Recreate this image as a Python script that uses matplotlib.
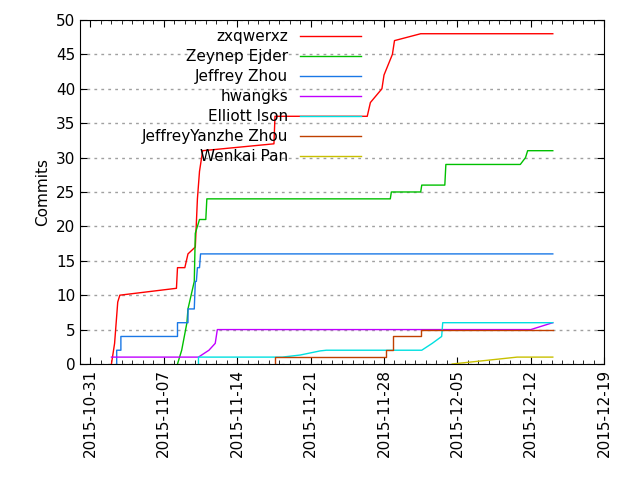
import datetime as dt
import matplotlib
matplotlib.use("Agg")
import matplotlib.pyplot as plt
import matplotlib.dates as mdates
from matplotlib.ticker import MultipleLocator

base = dt.datetime(2015, 10, 31)

authors = ["zxqwerxz", "Zeynep Ejder", "Jeffrey Zhou", "hwangks",
           "Elliott Ison", "JeffreyYanzhe Zhou", "Wenkai Pan"]
colors = ["#ff0000", "#00c000", "#1a78e6", "#c000ff", "#00e0e0", "#c04000", "#c8c000"]

# (days since 2015-10-31, cumulative commits)
zxqwerxz = [(2.0, 0), (2.3, 3), (2.6, 9), (2.8, 10), (8.2, 11), (8.3, 14), (9.0, 14), (9.3, 16),
            (10.0, 17), (10.2, 24), (10.4, 28), (10.7, 31), (17.5, 32), (17.6, 36), (26.4, 36),
            (26.7, 38), (27.8, 40), (28.0, 42), (28.8, 45), (29.0, 47), (31.5, 48), (44.1, 48)]
zeynep = [(8.3, 0), (8.7, 2), (9.2, 6), (9.3, 8), (9.9, 12), (10.0, 19), (10.4, 21), (11.0, 21),
          (11.1, 24), (28.6, 24), (28.7, 25), (31.5, 25), (31.6, 26), (33.8, 26), (33.9, 29),
          (41.0, 29), (41.5, 30), (41.7, 31), (44.1, 31)]
jeffrey = [(2.5, 0), (2.5, 2), (2.9, 2), (2.9, 4), (8.3, 4), (8.3, 6), (9.3, 6), (9.3, 8),
           (9.9, 8), (10.0, 12), (10.1, 12), (10.2, 14), (10.4, 14), (10.5, 16), (44.1, 16)]
hwangks = [(2.0, 1), (10.3, 1), (11.3, 2), (11.9, 3), (12.1, 5), (42.0, 5), (44.1, 6)]
elliott = [(10.3, 0), (10.3, 1), (18.3, 1), (20.0, 1.3), (21.9, 1.9), (22.5, 2.0), (31.6, 2.0),
           (32.6, 3), (33.5, 4), (33.6, 6), (44.1, 6)]
yanzhe = [(17.6, 0), (17.6, 1), (28.2, 1), (28.2, 2), (28.9, 2), (28.9, 4), (31.5, 4),
          (31.5, 5), (44.1, 5)]
wenkai = [(34.5, 0), (37.0, 0.4), (40.7, 1), (44.1, 1)]

series = [zxqwerxz, zeynep, jeffrey, hwangks, elliott, yanzhe, wenkai]

fig = plt.figure(figsize=(6.4, 4.8), dpi=100)
ax = fig.add_axes([0.125, 0.2417, 0.819, 0.7167])

for name, col, pts in zip(authors, colors, series):
    xs = [base + dt.timedelta(days=d) for d, _ in pts]
    ys = [v for _, v in pts]
    ax.plot(xs, ys, color=col, lw=1, label=name)

ax.set_xlim(base - dt.timedelta(days=1.0), base + dt.timedelta(days=49))
ax.set_ylim(0, 50)
ax.set_xticks([base + dt.timedelta(days=7 * i) for i in range(8)])
ax.xaxis.set_major_formatter(mdates.DateFormatter("%Y-%m-%d"))
ax.xaxis.set_minor_locator(mdates.DayLocator())
ax.yaxis.set_major_locator(MultipleLocator(5))
plt.setp(ax.get_xticklabels(), rotation=90, fontsize=11)
plt.setp(ax.get_yticklabels(), fontsize=11)
ax.tick_params(which="both", direction="in", top=True, right=True)
ax.tick_params(which="major", length=5)
ax.tick_params(which="minor", length=3)
ax.yaxis.grid(True, linestyle=(0, (2, 3)), color="#a0a0a0", lw=1)
ax.set_ylabel("Commits", fontsize=11)

ax.legend(loc="upper left", bbox_to_anchor=(0.1, 1.0), frameon=False, markerfirst=False,
          fontsize=11, handlelength=4.0, labelspacing=0.33, borderaxespad=0.2)
for t in ax.get_legend().get_texts():
    t.set_ha("right")

fig.savefig("out.png", dpi=100)
